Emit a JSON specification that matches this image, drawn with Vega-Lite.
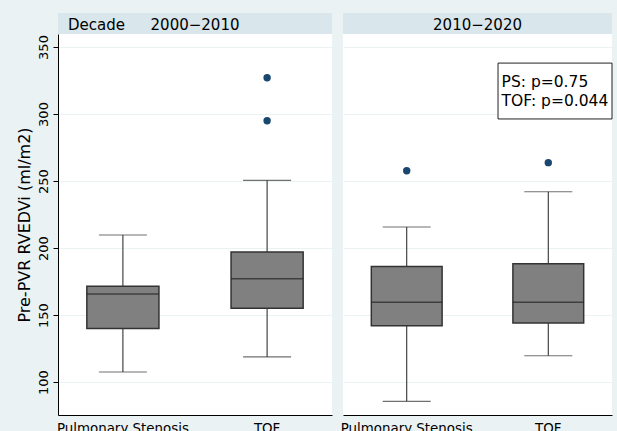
{
  "$schema": "https://vega.github.io/schema/vega-lite/v6.json",
  "background": "#EAF2F3",
  "autosize": {"type": "pad"},
  "padding": {"left": 16, "top": 13, "right": 5, "bottom": 0},
  "datasets": {
    "boxes": [
      {"decade": "2000−2010", "group": "Pulmonary Stenosis", "lower": 107.5, "q1": 140, "median": 165.7, "q3": 171.4, "upper": 209.7},
      {"decade": "2000−2010", "group": "TOF", "lower": 118.7, "q1": 155, "median": 177, "q3": 197, "upper": 250.5},
      {"decade": "2010−2020", "group": "Pulmonary Stenosis", "lower": 85.6, "q1": 142, "median": 159.5, "q3": 186.3, "upper": 215.7},
      {"decade": "2010−2020", "group": "TOF", "lower": 119.6, "q1": 144, "median": 159.5, "q3": 188.3, "upper": 242}
    ],
    "outliers": [
      {"decade": "2000−2010", "group": "TOF", "value": 327},
      {"decade": "2000−2010", "group": "TOF", "value": 295},
      {"decade": "2010−2020", "group": "Pulmonary Stenosis", "value": 257.7},
      {"decade": "2010−2020", "group": "TOF", "value": 263.7}
    ],
    "decades": [{"decade": "2000−2010", "key": "Decade"}, {"decade": "2010−2020", "key": ""}],
    "notes": [{"note": ["PS: p=0.75", "TOF: p=0.044"]}]
  },
  "columns": 2,
  "spacing": {"row": 0, "column": 11},
  "bounds": "flush",
  "concat": [
    {
      "width": 274,
      "height": 21,
      "view": {"fill": "#D9E6EB", "stroke": null},
      "data": {"name": "decades"},
      "transform": [{"filter": {"field": "decade", "equal": "2000−2010"}}],
      "layer": [
        {
          "mark": {"type": "text", "fontSize": 15, "color": "black", "dy": 1, "font": "DejaVu Sans"},
          "encoding": {
            "x": {"field": "decade", "type": "nominal", "axis": null},
            "text": {"field": "decade", "type": "nominal"}
          }
        },
        {
          "mark": {"type": "text", "fontSize": 15, "color": "black", "dy": 1, "align": "left", "font": "DejaVu Sans"},
          "encoding": {
            "x": {"value": 10},
            "text": {"field": "key", "type": "nominal"}
          }
        }
      ]
    },
    {
      "width": 269,
      "height": 21,
      "view": {"fill": "#D9E6EB", "stroke": null},
      "data": {"name": "decades"},
      "transform": [{"filter": {"field": "decade", "equal": "2010−2020"}}],
      "mark": {"type": "text", "fontSize": 15, "color": "black", "dy": 1, "font": "DejaVu Sans"},
      "encoding": {
        "x": {"field": "decade", "type": "nominal", "axis": null},
        "text": {"field": "decade", "type": "nominal"}
      }
    },
    {
      "width": 274,
      "height": 381,
      "view": {"fill": "white", "stroke": null},
      "layer": [
        {
          "data": {"name": "boxes"},
          "transform": [{"filter": {"field": "decade", "equal": "2000−2010"}}],
          "mark": {"type": "rule", "color": "#333333", "strokeWidth": 1.1},
          "encoding": {
            "x": {"field": "group", "type": "nominal", "scale": {"domain": ["Pulmonary Stenosis", "TOF"], "paddingInner": 0.5, "paddingOuter": 0.2},
              "axis": {"title": null, "labelAngle": 0, "ticks": false, "domainColor": "black", "labelPadding": 6, "labelFontSize": 13.4, "labelColor": "black", "grid": false}},
            "y": {"field": "lower", "type": "quantitative", "scale": {"domain": [75.4, 359.7], "nice": false, "zero": false},
              "axis": {"title": "Pre-PVR RVEDVi (ml/m2)", "values": [100, 150, 200, 250, 300, 350], "labelAngle": 270, "labelAlign": "center", "labelBaseline": "alphabetic", "labelFontSize": 13, "labelPadding": 5.5, "tickSize": 5, "titleFontSize": 16, "titleFontWeight": "normal", "titlePadding": 5, "grid": true, "gridColor": "#EAF2F3"}},
            "y2": {"field": "upper"}
          }
        },
        {
          "data": {"name": "boxes"},
          "transform": [{"filter": {"field": "decade", "equal": "2000−2010"}}],
          "mark": {"type": "bar", "fill": "#808080", "stroke": "#333333", "strokeWidth": 1.5},
          "encoding": {
            "x": {"field": "group", "type": "nominal"},
            "y": {"field": "q1", "type": "quantitative"},
            "y2": {"field": "q3"}
          }
        },
        {
          "data": {"name": "boxes"},
          "transform": [{"filter": {"field": "decade", "equal": "2000−2010"}}],
          "mark": {"type": "tick", "orient": "horizontal", "size": 72, "thickness": 1.5, "color": "#222222"},
          "encoding": {
            "x": {"field": "group", "type": "nominal"},
            "y": {"field": "median", "type": "quantitative"}
          }
        },
        {
          "data": {"name": "boxes"},
          "transform": [{"filter": {"field": "decade", "equal": "2000−2010"}}],
          "mark": {"type": "tick", "orient": "horizontal", "size": 48, "thickness": 1.2, "color": "#333333"},
          "encoding": {
            "x": {"field": "group", "type": "nominal"},
            "y": {"field": "lower", "type": "quantitative"}
          }
        },
        {
          "data": {"name": "boxes"},
          "transform": [{"filter": {"field": "decade", "equal": "2000−2010"}}],
          "mark": {"type": "tick", "orient": "horizontal", "size": 48, "thickness": 1.2, "color": "#333333"},
          "encoding": {
            "x": {"field": "group", "type": "nominal"},
            "y": {"field": "upper", "type": "quantitative"}
          }
        },
        {
          "data": {"name": "outliers"},
          "transform": [{"filter": {"field": "decade", "equal": "2000−2010"}}],
          "mark": {"type": "point", "filled": true, "color": "#1A476F", "size": 55, "opacity": 1},
          "encoding": {
            "x": {"field": "group", "type": "nominal"},
            "y": {"field": "value", "type": "quantitative"}
          }
        }
      ]
    },
    {
      "width": 269,
      "height": 381,
      "view": {"fill": "white", "stroke": null},
      "layer": [
        {
          "data": {"name": "boxes"},
          "transform": [{"filter": {"field": "decade", "equal": "2010−2020"}}],
          "mark": {"type": "rule", "color": "#333333", "strokeWidth": 1.1},
          "encoding": {
            "x": {"field": "group", "type": "nominal", "scale": {"domain": ["Pulmonary Stenosis", "TOF"], "paddingInner": 0.5, "paddingOuter": 0.2},
              "axis": {"title": null, "labelAngle": 0, "ticks": false, "domainColor": "black", "labelPadding": 6, "labelFontSize": 13.4, "labelColor": "black", "grid": false}},
            "y": {"field": "lower", "type": "quantitative", "scale": {"domain": [75.4, 359.7], "nice": false, "zero": false},
              "axis": {"title": null, "values": [100, 150, 200, 250, 300, 350], "labels": false, "ticks": false, "domain": false, "grid": true, "gridColor": "#EAF2F3"}},
            "y2": {"field": "upper"}
          }
        },
        {
          "data": {"name": "boxes"},
          "transform": [{"filter": {"field": "decade", "equal": "2010−2020"}}],
          "mark": {"type": "bar", "fill": "#808080", "stroke": "#333333", "strokeWidth": 1.5},
          "encoding": {
            "x": {"field": "group", "type": "nominal"},
            "y": {"field": "q1", "type": "quantitative"},
            "y2": {"field": "q3"}
          }
        },
        {
          "data": {"name": "boxes"},
          "transform": [{"filter": {"field": "decade", "equal": "2010−2020"}}],
          "mark": {"type": "tick", "orient": "horizontal", "size": 71, "thickness": 1.5, "color": "#222222"},
          "encoding": {
            "x": {"field": "group", "type": "nominal"},
            "y": {"field": "median", "type": "quantitative"}
          }
        },
        {
          "data": {"name": "boxes"},
          "transform": [{"filter": {"field": "decade", "equal": "2010−2020"}}],
          "mark": {"type": "tick", "orient": "horizontal", "size": 48, "thickness": 1.2, "color": "#333333"},
          "encoding": {
            "x": {"field": "group", "type": "nominal"},
            "y": {"field": "lower", "type": "quantitative"}
          }
        },
        {
          "data": {"name": "boxes"},
          "transform": [{"filter": {"field": "decade", "equal": "2010−2020"}}],
          "mark": {"type": "tick", "orient": "horizontal", "size": 48, "thickness": 1.2, "color": "#333333"},
          "encoding": {
            "x": {"field": "group", "type": "nominal"},
            "y": {"field": "upper", "type": "quantitative"}
          }
        },
        {
          "data": {"name": "outliers"},
          "transform": [{"filter": {"field": "decade", "equal": "2010−2020"}}],
          "mark": {"type": "point", "filled": true, "color": "#1A476F", "size": 55, "opacity": 1},
          "encoding": {
            "x": {"field": "group", "type": "nominal"},
            "y": {"field": "value", "type": "quantitative"}
          }
        },
        {
          "data": {"name": "notes"},
          "mark": {"type": "rect", "fill": "white", "stroke": "#222222", "strokeWidth": 1},
          "encoding": {
            "x": {"datum": "TOF", "type": "nominal", "bandPosition": -0.21},
            "x2": {"datum": "TOF", "bandPosition": 1.4},
            "y": {"datum": 338, "type": "quantitative"},
            "y2": {"datum": 296.3}
          }
        },
        {
          "data": {"name": "notes"},
          "mark": {"type": "text", "align": "left", "baseline": "alphabetic", "fontSize": 15.5, "lineHeight": 18.4, "color": "black", "font": "DejaVu Sans"},
          "encoding": {
            "x": {"datum": "TOF", "type": "nominal", "bandPosition": -0.16},
            "y": {"datum": 320, "type": "quantitative"},
            "text": {"field": "note", "type": "nominal"}
          }
        }
      ]
    }
  ],
  "config": {
    "font": "DejaVu Sans",
    "view": {"stroke": null},
    "axis": {"labelColor": "black", "titleColor": "black", "domainColor": "black", "tickColor": "black", "labelFont": "DejaVu Sans", "titleFont": "DejaVu Sans"}
  }
}
